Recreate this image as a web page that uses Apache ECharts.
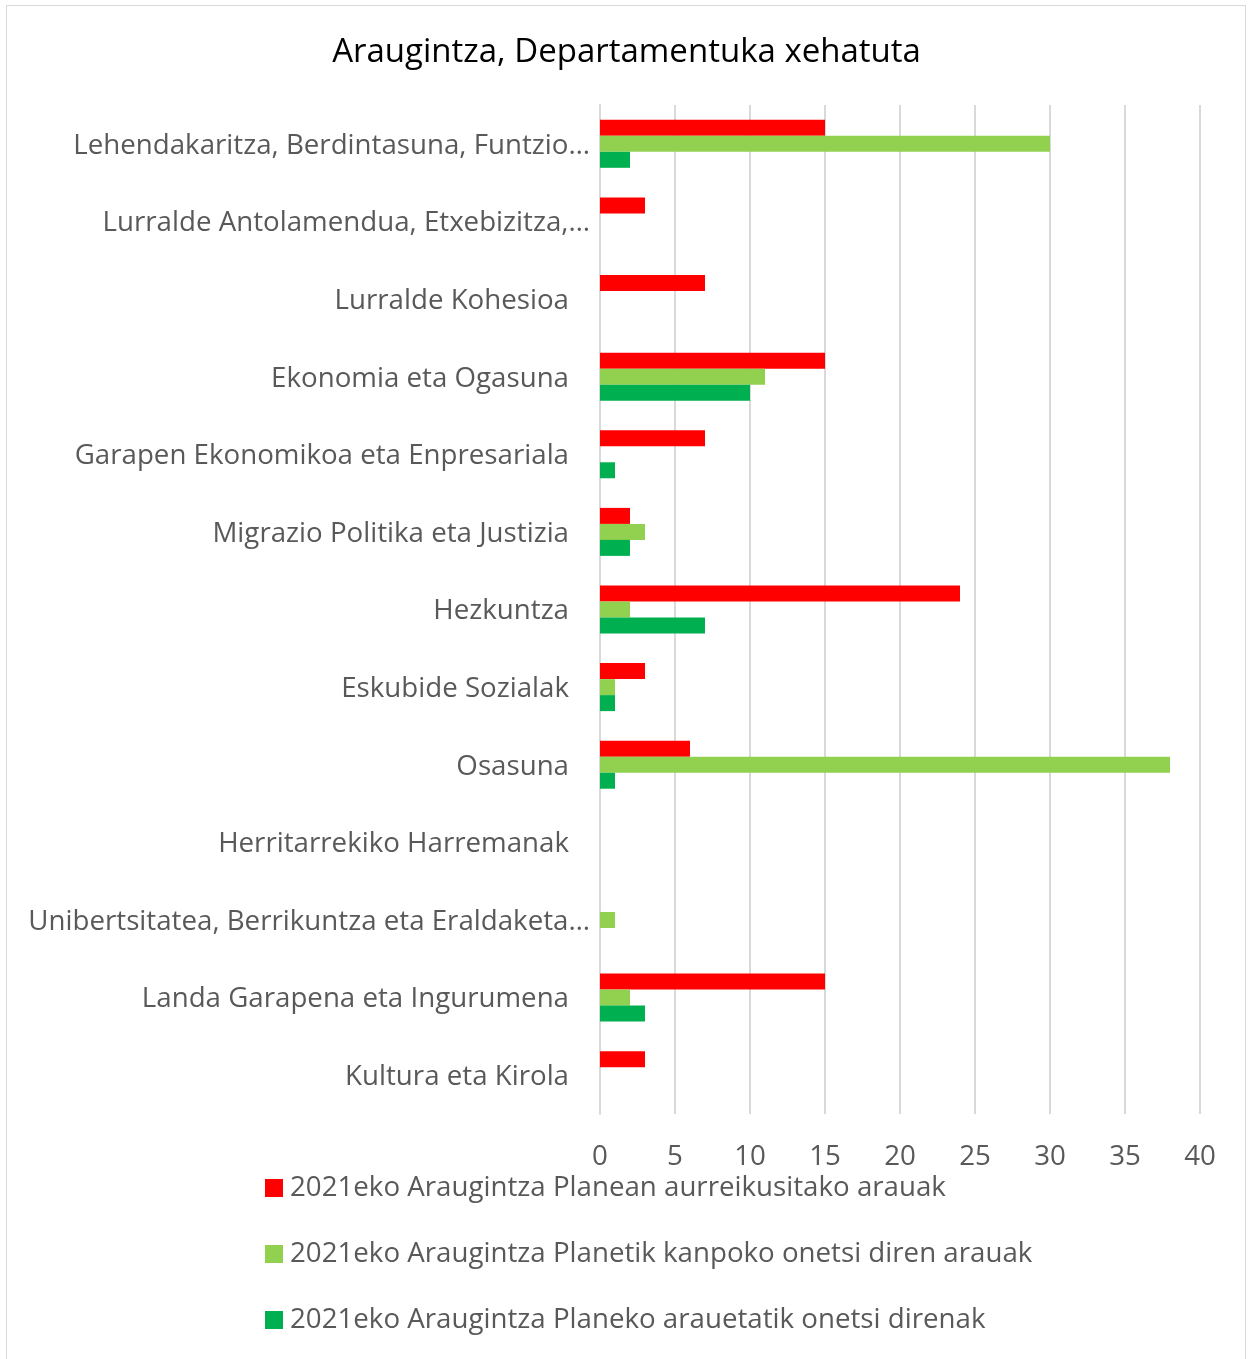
<!DOCTYPE html>
<html>
<head>
<meta charset="utf-8">
<script src="https://cdn.jsdelivr.net/npm/echarts@6/dist/echarts.min.js"></script>
<style>
  html, body { margin: 0; padding: 0; background: #fff; }
  #frame { position: absolute; left: 6px; top: 5px; width: 1240px; height: 1360px; border: 1px solid #d9d9d9; box-sizing: border-box; }
  #chart { position: absolute; left: 0; top: 0; width: 1253px; height: 1359px; }
</style>
</head>
<body>
<div id="frame"></div>
<div id="chart"></div>
<script>
const categories = [
  'Lehendakaritza, Berdintasuna, Funtzio…',
  'Lurralde Antolamendua, Etxebizitza,…',
  'Lurralde Kohesioa',
  'Ekonomia eta Ogasuna',
  'Garapen Ekonomikoa eta Enpresariala',
  'Migrazio Politika eta Justizia',
  'Hezkuntza',
  'Eskubide Sozialak',
  'Osasuna',
  'Herritarrekiko Harremanak',
  'Unibertsitatea, Berrikuntza eta Eraldaketa…',
  'Landa Garapena eta Ingurumena',
  'Kultura eta Kirola'
]
const planean = [15, 3, 7, 15, 7, 2, 24, 3, 6, 0, 0, 15, 3]
const kanpoko = [30, 0, 0, 11, 0, 3, 2, 1, 38, 0, 1, 2, 0]
const onetsiak = [2, 0, 0, 10, 1, 2, 7, 1, 1, 0, 0, 3, 0]
const seriesNames = [
  '2021eko Araugintza Planean aurreikusitako arauak',
  '2021eko Araugintza Planetik kanpoko onetsi diren arauak',
  '2021eko Araugintza Planeko arauetatik onetsi direnak'
]
const colors = ['#ff0000', '#92d050', '#00b050']

const font = '"Open Sans", sans-serif'
const labelSize = 27.7
const chart = echarts.init(document.getElementById('chart'))
chart.setOption({
  animation: false,
  title: {
    text: 'Araugintza, Departamentuka xehatuta',
    left: 'center',
    top: 31,
    textStyle: { fontFamily: font, fontSize: 33, fontWeight: 'normal', color: '#000' }
  },
  legend: {
    orient: 'vertical',
    left: 260,
    top: 1169,
    itemWidth: 18,
    itemHeight: 18,
    itemGap: 38,
    icon: 'rect',
    textStyle: { fontFamily: font, fontSize: labelSize, lineHeight: 28, color: '#595959', padding: [0, 0, 0, 2] }
  },
  grid: { left: 600, right: 53, top: 105, bottom: 245, containLabel: false },
  xAxis: {
    type: 'value',
    min: 0,
    max: 40,
    interval: 5,
    axisLine: { show: false },
    axisTick: { show: false },
    splitLine: { lineStyle: { color: '#d9d9d9', width: 2 } },
    axisLabel: { fontFamily: font, fontSize: labelSize, color: '#595959', margin: 29 }
  },
  yAxis: {
    type: 'category',
    data: categories,
    inverse: true,
    axisLine: { show: true, lineStyle: { color: '#d9d9d9', width: 2 } },
    axisTick: { show: false },
    axisLabel: {
      fontFamily: font,
      fontSize: labelSize,
      color: '#595959',
      margin: 10,
      formatter: v => v.endsWith('…') ? '{e|' + v + '}' : '{n|' + v + '}',
      rich: {
        e: { fontFamily: font, fontSize: labelSize, color: '#595959', padding: [4, 0, 0, 0] },
        n: { fontFamily: font, fontSize: labelSize, color: '#595959', padding: [4, 21, 0, 0] }
      }
    }
  },
  series: [planean, kanpoko, onetsiak].map((d, i) => ({
    name: seriesNames[i],
    type: 'bar',
    data: d,
    barWidth: 16,
    barGap: '0%',
    itemStyle: { color: colors[i] }
  }))
})
</script>
</body>
</html>
